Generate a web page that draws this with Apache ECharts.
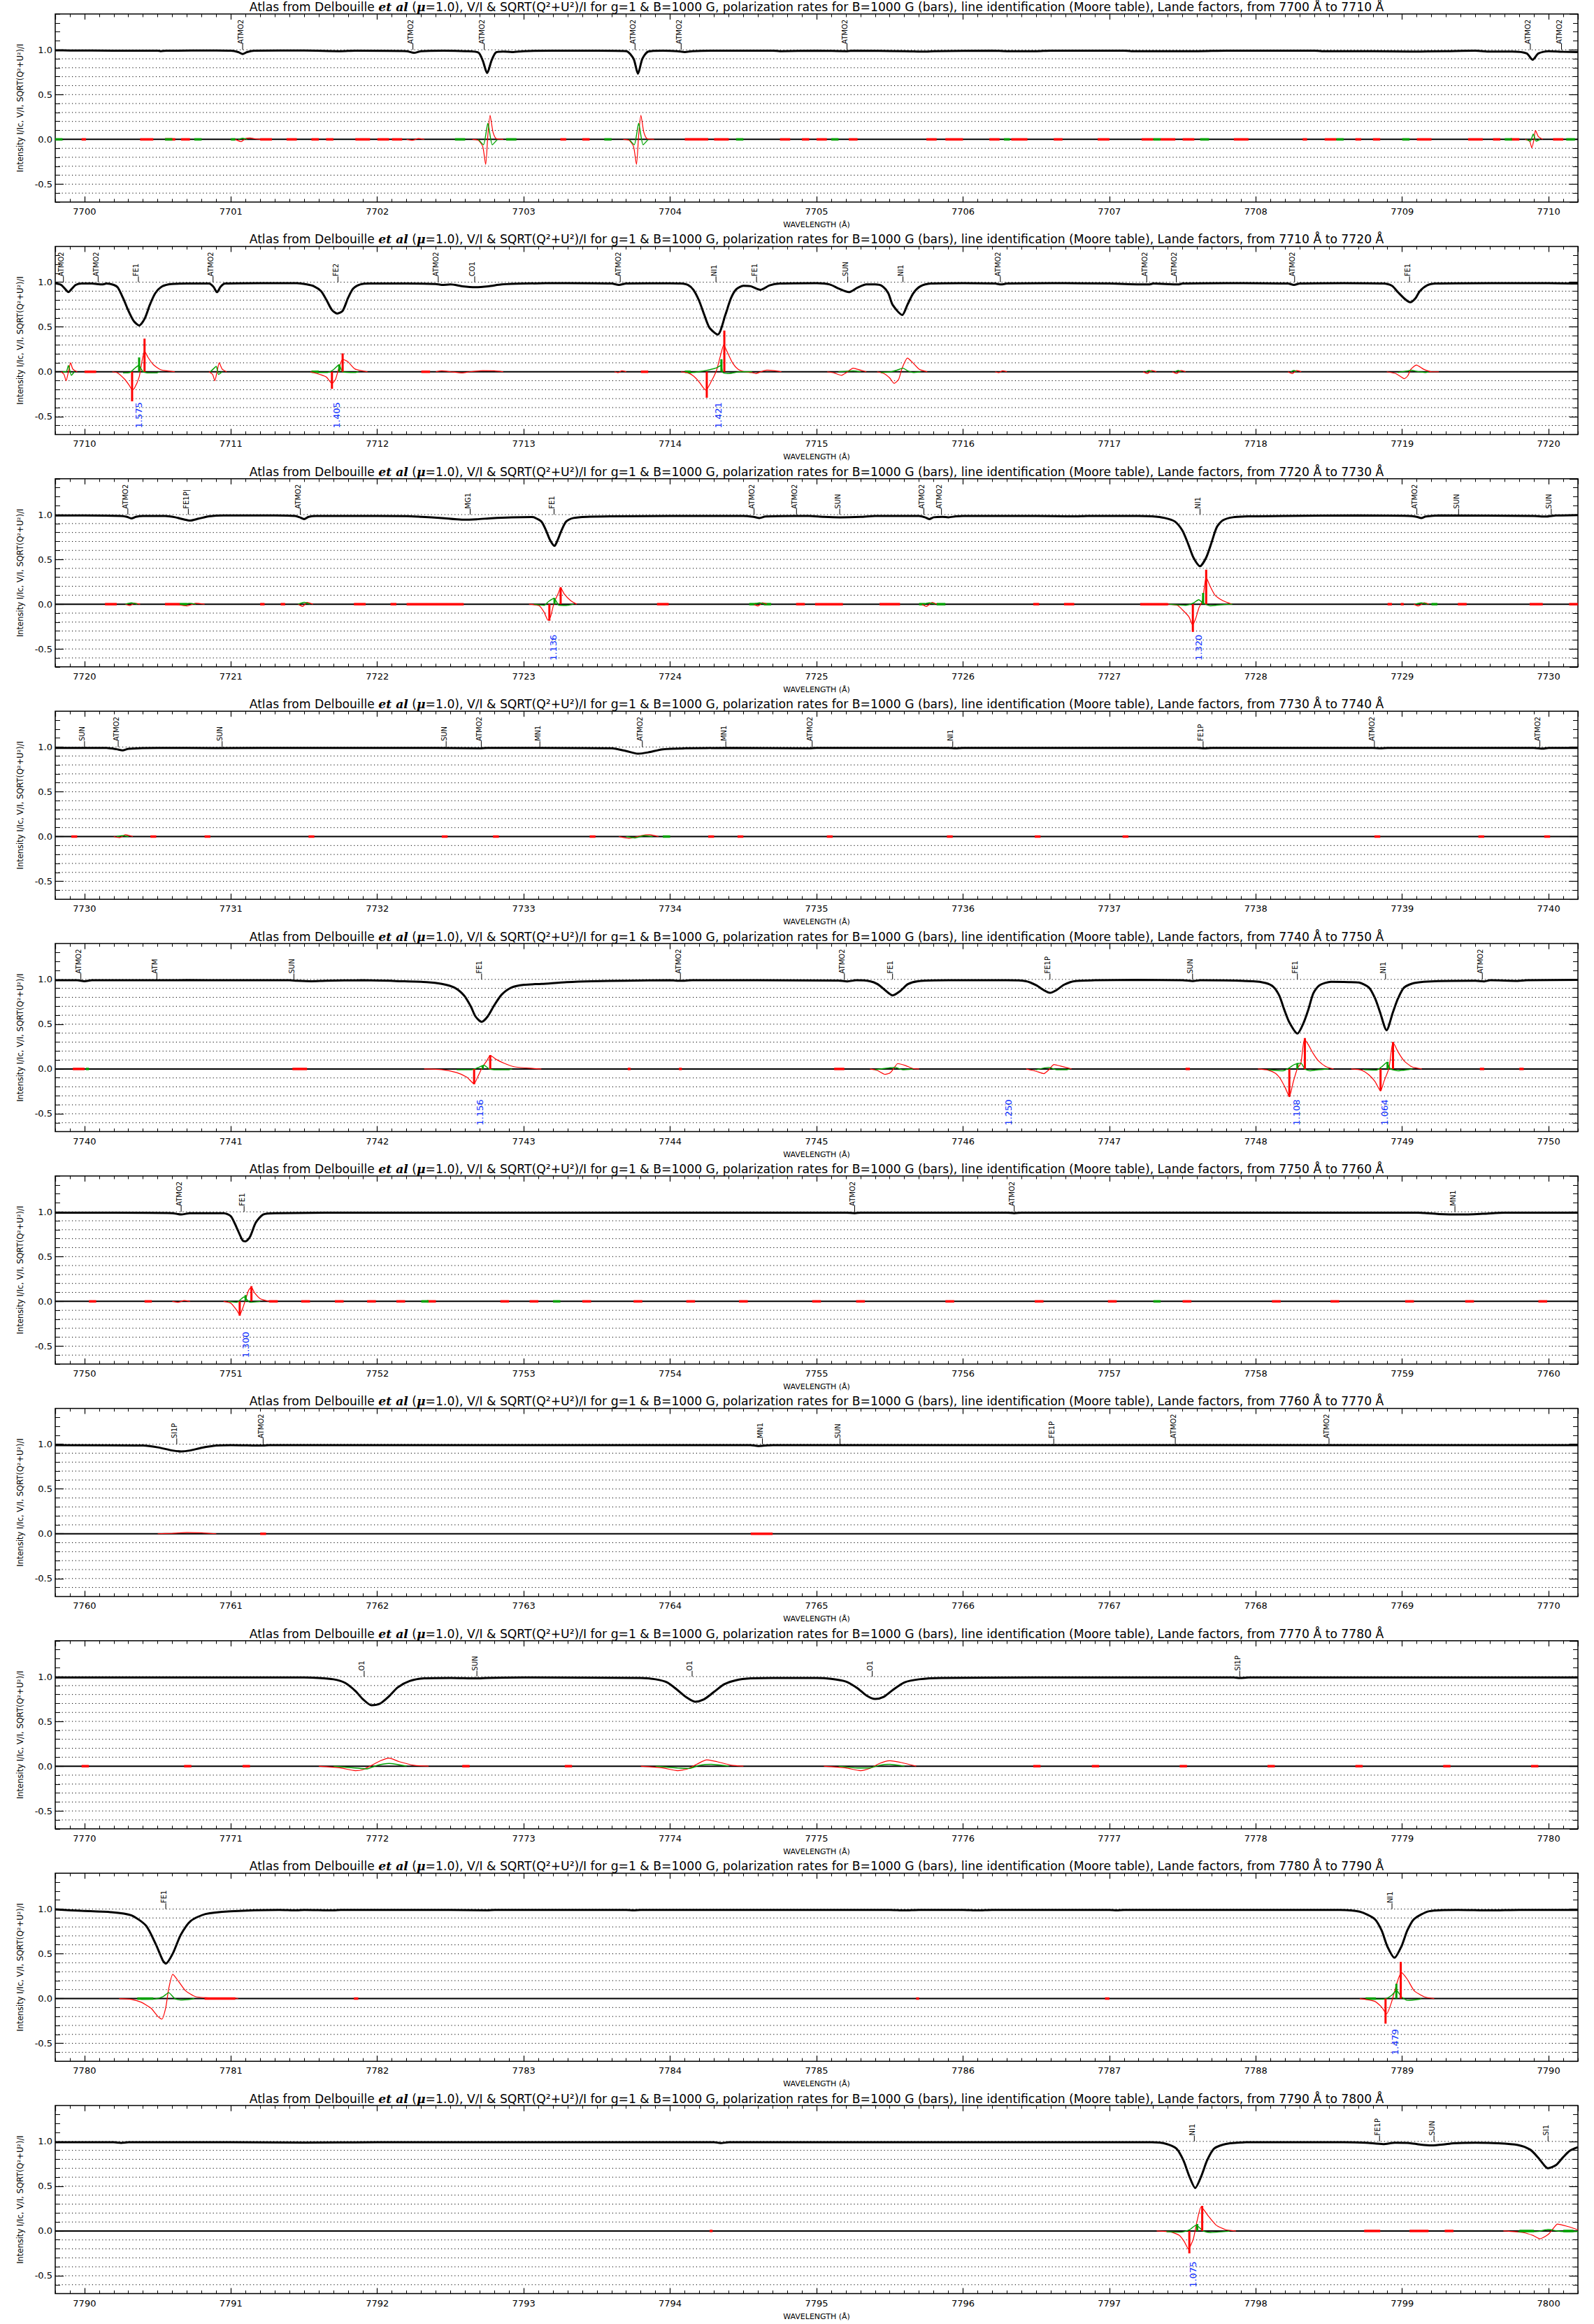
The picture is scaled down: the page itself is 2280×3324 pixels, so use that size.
<!DOCTYPE html>
<html><head><meta charset="utf-8">
<script src="https://cdn.jsdelivr.net/npm/echarts@6/dist/echarts.min.js"></script>
<style>html,body{margin:0;padding:0;background:#fff}#c{width:2280px;height:3324px}</style>
</head><body><div id="c"></div>
<script>
// ---------------- DATA ----------------
const panelStarts = [7700,7710,7720,7730,7740,7750,7760,7770,7780,7790];
const gridLevels = [-0.6,-0.5,-0.4,-0.3,-0.2,-0.1,0,0.1,0.2,0.3,0.4,0.5,0.6,0.7,0.8,0.9,1.0];

// ---- 7700-7710
const int7700 = [[7699.8,0.995],[7699.9,0.993],[7700.2,0.99],[7700.5,0.99],[7700.52,0.985],[7700.56,0.99],[7700.9,0.992],[7701.0,0.99],[7701.05,0.975],[7701.08,0.953],[7701.11,0.975],[7701.16,0.99],[7701.5,0.992],[7701.75,0.985],[7701.85,0.99],[7702.2,0.985],[7702.25,0.966],[7702.3,0.985],[7702.45,0.99],[7702.6,0.985],[7702.69,0.97],[7702.72,0.88],[7702.75,0.74],[7702.78,0.88],[7702.81,0.97],[7702.86,0.98],[7702.92,0.975],[7703.0,0.985],[7703.2,0.99],[7703.5,0.99],[7703.7,0.985],[7703.75,0.9],[7703.78,0.733],[7703.81,0.9],[7703.85,0.98],[7703.95,0.99],[7704.05,0.985],[7704.1,0.975],[7704.15,0.985],[7704.3,0.99],[7704.7,0.99],[7704.75,0.985],[7705.0,0.99],[7705.21,0.985],[7705.25,0.99],[7705.6,0.985],[7705.75,0.98],[7705.8,0.985],[7706.2,0.99],[7706.3,0.985],[7706.5,0.985],[7706.6,0.99],[7707.1,0.99],[7707.15,0.985],[7707.6,0.985],[7707.8,0.99],[7708.4,0.99],[7708.45,0.985],[7708.8,0.985],[7709.05,0.98],[7709.3,0.985],[7709.5,0.99],[7709.6,0.98],[7709.75,0.98],[7709.85,0.96],[7709.89,0.889],[7709.93,0.96],[7710.0,0.985],[7710.1,0.978],[7710.2,0.975]];
const v7700 = [
 [[7701.03,0],[7701.07,-0.025],[7701.1,0.01],[7701.13,0.015],[7701.17,0.005],[7701.2,0]],
 [[7702.2,0],[7702.24,-0.01],[7702.28,0.01],[7702.32,0]],
 [[7702.65,0],[7702.69,-0.01],[7702.72,-0.08],[7702.74,-0.28],[7702.755,0.05],[7702.77,0.27],[7702.79,0.08],[7702.81,0.01],[7702.86,0]],
 [[7703.68,0],[7703.72,-0.01],[7703.75,-0.08],[7703.77,-0.28],[7703.785,0.05],[7703.8,0.27],[7703.82,0.08],[7703.84,0.01],[7703.89,0]],
 [[7709.84,0],[7709.87,-0.02],[7709.885,-0.094],[7709.9,0.0],[7709.91,0.1],[7709.93,0.03],[7709.96,0]]
];
const p7700 = [
 [[7701.05,0],[7701.08,0.012],[7701.11,0]],
 [[7702.69,0],[7702.725,-0.06],[7702.755,0.18],[7702.785,-0.06],[7702.82,0]],
 [[7703.72,0],[7703.755,-0.06],[7703.785,0.18],[7703.815,-0.06],[7703.85,0]],
 [[7709.85,0],[7709.875,-0.02],[7709.895,0.06],[7709.915,-0.02],[7709.94,0]]
];
const nv7700 = [[7699.98,7700.01],[7700.38,7700.47],[7700.55,7700.62],[7700.66,7700.72],[7701.2,7701.28],[7701.38,7701.45],[7701.55,7701.6],[7701.65,7701.7],[7701.85,7701.95],[7702.0,7702.08],[7702.1,7702.17],[7703.25,7703.29],[7703.4,7703.45],[7704.1,7704.26],[7704.3,7704.4],[7704.75,7704.82],[7704.9,7704.95],[7705.0,7705.07],[7705.22,7705.28],[7705.75,7705.82],[7705.88,7706.0],[7706.18,7706.25],[7706.33,7706.44],[7706.62,7706.68],[7706.92,7707.0],[7707.22,7707.3],[7707.35,7707.45],[7707.5,7707.58],[7707.85,7707.95],[7708.32,7708.35],[7708.47,7708.55],[7708.68,7708.72],[7708.8,7708.85],[7709.1,7709.2],[7709.45,7709.55],[7709.62,7709.67],[7709.74,7709.8],[7710.03,7710.1]];
const np7700 = [[7699.8,7699.85],[7700.55,7700.6],[7700.75,7700.8],[7701.0,7701.03],[7702.53,7702.6],[7702.88,7702.95],[7703.55,7703.6],[7704.45,7704.5],[7705.1,7705.15],[7706.28,7706.32],[7707.3,7707.35],[7707.62,7707.68],[7708.55,7708.6],[7709.0,7709.05],[7709.7,7709.75],[7710.12,7710.18]];
const bv7700 = [];
const bp7700 = [];
const id7700 = [[7701.08,'ATMO2'],[7702.243,'ATMO2'],[7702.73,'ATMO2'],[7703.76,'ATMO2'],[7704.075,'ATMO2'],[7705.208,'ATMO2'],[7709.875,'ATMO2'],[7710.088,'ATMO2']];
const ld7700 = [];

// ---- 7710-7720
const int7710 = [[7709.8,0.99],[7709.84,0.97],[7709.87,0.92],[7709.89,0.889],[7709.91,0.92],[7709.94,0.97],[7709.98,0.985],[7710.05,0.985],[7710.12,0.975],[7710.15,0.985],[7710.2,0.97],[7710.227,0.941],[7710.263,0.824],[7710.30,0.681],[7710.337,0.564],[7710.373,0.517],[7710.41,0.59],[7710.446,0.746],[7710.483,0.876],[7710.531,0.954],[7710.593,0.98],[7710.7,0.985],[7710.85,0.985],[7710.88,0.95],[7710.905,0.889],[7710.93,0.95],[7710.96,0.985],[7711.2,0.99],[7711.45,0.99],[7711.519,0.975],[7711.568,0.954],[7711.616,0.90],[7711.653,0.80],[7711.69,0.69],[7711.726,0.65],[7711.763,0.68],[7711.8,0.824],[7711.835,0.928],[7711.883,0.975],[7711.95,0.985],[7712.2,0.985],[7712.4,0.98],[7712.44,0.97],[7712.5,0.975],[7712.58,0.955],[7712.67,0.945],[7712.76,0.955],[7712.85,0.975],[7713.0,0.985],[7713.3,0.99],[7713.6,0.985],[7713.65,0.97],[7713.7,0.985],[7714.0,0.987],[7714.074,0.985],[7714.122,0.969],[7714.159,0.915],[7714.196,0.80],[7714.232,0.64],[7714.269,0.49],[7714.325,0.416],[7714.378,0.64],[7714.415,0.82],[7714.451,0.92],[7714.5,0.96],[7714.55,0.955],[7714.615,0.915],[7714.68,0.965],[7714.75,0.985],[7715.0,0.99],[7715.09,0.975],[7715.15,0.93],[7715.22,0.889],[7715.28,0.94],[7715.34,0.975],[7715.4,0.975],[7715.45,0.955],[7715.49,0.876],[7715.52,0.746],[7715.585,0.634],[7715.62,0.746],[7715.66,0.876],[7715.71,0.955],[7715.78,0.985],[7716.0,0.99],[7716.22,0.985],[7716.26,0.975],[7716.3,0.985],[7716.6,0.99],[7717.0,0.985],[7717.27,0.975],[7717.3,0.985],[7717.47,0.975],[7717.5,0.985],[7717.8,0.99],[7718.22,0.985],[7718.26,0.97],[7718.3,0.985],[7718.6,0.99],[7718.87,0.985],[7718.93,0.96],[7718.97,0.89],[7719.02,0.81],[7719.055,0.777],[7719.09,0.82],[7719.12,0.90],[7719.17,0.965],[7719.23,0.985],[7719.6,0.99],[7720.0,0.99],[7720.2,0.985]];
const v7710 = [
 [[7709.84,0],[7709.86,-0.03],[7709.874,-0.1],[7709.89,0],[7709.905,0.1],[7709.92,0.03],[7709.95,0]],
 [[7710.19,0],[7710.227,-0.013],[7710.276,-0.086],[7710.305,-0.15],[7710.325,-0.2],[7710.339,-0.19],[7710.373,-0.06],[7710.393,0.12],[7710.41,0.23],[7710.434,0.16],[7710.47,0.08],[7710.52,0.023],[7710.617,0]],
 [[7710.85,0],[7710.875,-0.03],[7710.89,-0.1],[7710.905,0],[7710.92,0.1],[7710.94,0.03],[7710.97,0]],
 [[7711.543,0],[7711.616,-0.034],[7711.653,-0.06],[7711.69,-0.13],[7711.714,-0.086],[7711.738,0.045],[7711.763,0.14],[7711.8,0.11],[7711.848,0.03],[7711.933,0]],
 [[7712.4,0],[7712.44,0.01],[7712.5,0],[7712.58,-0.013],[7712.63,0],[7712.72,0.013],[7712.8,0.01],[7712.86,0]],
 [[7713.62,0],[7713.645,-0.01],[7713.67,0.01],[7713.7,0]],
 [[7714.074,0],[7714.122,-0.013],[7714.159,-0.047],[7714.196,-0.11],[7714.232,-0.19],[7714.244,-0.205],[7714.28,-0.11],[7714.317,0.018],[7714.342,0.17],[7714.366,0.30],[7714.39,0.22],[7714.427,0.096],[7714.463,0.03],[7714.51,0],[7714.56,-0.01],[7714.585,-0.02],[7714.62,0],[7714.66,0.018],[7714.71,0.013],[7714.76,0]],
 [[7715.073,0],[7715.12,-0.013],[7715.17,-0.04],[7715.2,-0.013],[7715.25,0.04],[7715.3,0.018],[7715.34,0]],
 [[7715.414,0],[7715.46,-0.02],[7715.5,-0.07],[7715.53,-0.13],[7715.56,-0.086],[7715.585,0.044],[7715.621,0.153],[7715.66,0.096],[7715.7,0.03],[7715.756,0]],
 [[7716.22,0],[7716.245,-0.01],[7716.27,0.01],[7716.3,0]],
 [[7717.23,0],[7717.26,-0.02],[7717.29,0.015],[7717.32,0]],
 [[7717.43,0],[7717.46,-0.02],[7717.49,0.015],[7717.52,0]],
 [[7718.22,0],[7718.25,-0.02],[7718.28,0.015],[7718.31,0]],
 [[7718.895,0],[7718.954,-0.02],[7718.99,-0.055],[7719.014,-0.078],[7719.037,-0.047],[7719.06,0.03],[7719.097,0.075],[7719.144,0.03],[7719.2,0],[7719.25,0]]
];
const p7710 = [
 [[7709.85,0],[7709.875,0.0],[7709.89,0.07],[7709.91,-0.04],[7709.93,0]],
 [[7710.263,-0.013],[7710.31,-0.008],[7710.337,0.03],[7710.37,0.07],[7710.4,0],[7710.434,-0.013],[7710.495,-0.013],[7710.51,0]],
 [[7710.86,0],[7710.885,0.04],[7710.9,0.06],[7710.915,-0.03],[7710.94,0]],
 [[7711.59,-0.008],[7711.66,-0.008],[7711.7,0.023],[7711.738,0.078],[7711.763,0],[7711.85,-0.008],[7711.87,0]],
 [[7714.122,-0.013],[7714.196,0],[7714.256,0.018],[7714.317,0.044],[7714.346,0.07],[7714.36,-0.008],[7714.39,-0.02],[7714.427,-0.013],[7714.476,0],[7714.56,0]],
 [[7715.15,0],[7715.2,0.005],[7715.25,0.01],[7715.3,0]],
 [[7715.44,-0.008],[7715.51,0],[7715.55,0.018],[7715.59,0.04],[7715.62,0.013],[7715.66,-0.008],[7715.71,0]],
 [[7717.25,0],[7717.27,0.015],[7717.29,0]],[[7717.45,0],[7717.47,0.015],[7717.49,0]],[[7718.24,0],[7718.26,0.015],[7718.28,0]],
 [[7718.97,-0.008],[7719.037,0.01],[7719.06,0.018],[7719.097,0.005],[7719.16,-0.008],[7719.18,0]]
];
const nv7710 = [[7710.0,7710.08],[7712.3,7712.36],[7713.8,7713.85]];
const np7710 = [[7711.55,7711.6],[7714.1,7714.14]];
const bv7710 = [[7710.325,-0.33],[7710.41,0.37],[7711.69,-0.19],[7711.763,0.205],[7714.25,-0.29],[7714.37,0.46]];
const bp7710 = [[7710.373,0.16],[7711.74,0.08],[7714.35,0.14]];
const id7710 = [[7709.856,'ATMO2'],[7710.093,'ATMO2'],[7710.368,'FE1'],[7710.878,'ATMO2'],[7711.731,'FE2'],[7712.416,'ATMO2'],[7712.665,'CO1'],[7713.659,'ATMO2'],[7714.313,'NI1'],[7714.59,'FE1'],[7715.213,'SUN'],[7715.59,'NI1'],[7716.255,'ATMO2'],[7717.255,'ATMO2'],[7717.457,'ATMO2'],[7718.265,'ATMO2'],[7719.05,'FE1']];
const ld7710 = [[7710.37,'1.575'],[7711.72,'1.405'],[7714.33,'1.421']];

// ---- 7720-7730
const int7720 = [[7719.8,0.99],[7720.0,0.99],[7720.25,0.985],[7720.29,0.975],[7720.32,0.957],[7720.35,0.975],[7720.4,0.985],[7720.55,0.985],[7720.62,0.97],[7720.68,0.945],[7720.72,0.933],[7720.78,0.955],[7720.85,0.98],[7720.95,0.99],[7721.3,0.99],[7721.44,0.985],[7721.47,0.97],[7721.50,0.95],[7721.53,0.975],[7721.58,0.985],[7721.8,0.985],[7722.2,0.983],[7722.303,0.975],[7722.44,0.962],[7722.577,0.944],[7722.678,0.948],[7722.78,0.96],[7722.917,0.97],[7723.053,0.973],[7723.07,0.97],[7723.12,0.923],[7723.15,0.832],[7723.18,0.715],[7723.21,0.65],[7723.23,0.71],[7723.26,0.832],[7723.29,0.923],[7723.34,0.962],[7723.43,0.975],[7723.6,0.98],[7724.0,0.985],[7724.5,0.985],[7724.57,0.975],[7724.61,0.962],[7724.65,0.978],[7724.85,0.985],[7724.95,0.985],[7725.05,0.975],[7725.16,0.97],[7725.3,0.975],[7725.4,0.985],[7725.7,0.985],[7725.74,0.97],[7725.77,0.95],[7725.8,0.97],[7725.86,0.975],[7725.9,0.97],[7725.95,0.98],[7726.0,0.985],[7726.5,0.985],[7726.76,0.98],[7726.85,0.985],[7727.2,0.985],[7727.292,0.98],[7727.378,0.962],[7727.447,0.923],[7727.499,0.82],[7727.54,0.664],[7727.574,0.52],[7727.619,0.424],[7727.661,0.52],[7727.698,0.69],[7727.733,0.858],[7727.774,0.936],[7727.843,0.97],[7727.95,0.98],[7728.2,0.985],[7728.7,0.99],[7729.05,0.985],[7729.1,0.975],[7729.13,0.962],[7729.16,0.978],[7729.25,0.99],[7729.9,0.985],[7729.98,0.978],[7730.05,0.99],[7730.2,0.995]];
const v7720 = [
 [[7720.28,0],[7720.31,-0.015],[7720.34,0.01],[7720.38,0]],
 [[7720.62,0],[7720.7,-0.02],[7720.76,0.01],[7720.82,0]],
 [[7721.46,0],[7721.49,-0.025],[7721.52,0.02],[7721.56,0]],
 [[7723.036,0],[7723.105,-0.017],[7723.139,-0.09],[7723.166,-0.18],[7723.183,-0.14],[7723.207,0.014],[7723.235,0.118],[7723.252,0.183],[7723.275,0.118],[7723.32,0.04],[7723.361,0]],
 [[7724.57,0],[7724.6,-0.02],[7724.63,0.015],[7724.66,0]],
 [[7725.72,0],[7725.75,-0.025],[7725.79,0.02],[7725.82,0]],
 [[7727.395,0],[7727.464,-0.013],[7727.5,-0.065],[7727.543,-0.14],[7727.568,-0.23],[7727.588,-0.167],[7727.612,-0.038],[7727.636,0.04],[7727.661,0.3],[7727.688,0.2],[7727.722,0.1],[7727.774,0.04],[7727.836,0]],
 [[7729.08,0],[7729.11,-0.02],[7729.15,0.015],[7729.18,0]]
];
const p7720 = [
 [[7720.28,0],[7720.32,0.015],[7720.36,0]],[[7720.68,0],[7720.72,0.01],[7720.76,0]],[[7721.46,0],[7721.5,0.02],[7721.54,0]],
 [[7723.07,0],[7723.139,-0.013],[7723.17,0.03],[7723.207,0.065],[7723.24,-0.012],[7723.29,-0.015],[7723.34,0]],
 [[7724.57,0],[7724.61,0.015],[7724.65,0]],[[7725.73,0],[7725.77,0.015],[7725.81,0]],
 [[7727.41,0],[7727.52,-0.013],[7727.574,0.013],[7727.61,0.05],[7727.64,0.013],[7727.688,-0.018],[7727.76,-0.007],[7727.84,0]],
 [[7729.09,0],[7729.13,0.015],[7729.17,0]]
];
const nv7720 = [[7720.14,7720.22],[7720.55,7720.65],[7721.2,7721.23],[7721.34,7721.37],[7721.84,7721.92],[7722.09,7722.13],[7722.2,7722.59],[7723.91,7723.99],[7724.86,7724.92],[7724.99,7725.18],[7725.43,7725.57],[7726.48,7726.52],[7726.69,7726.76],[7727.21,7727.4],[7728.9,7728.93],[7728.99,7729.01],[7729.38,7729.44],[7729.87,7729.96],[7730.14,7730.2]];
const np7720 = [[7720.65,7720.7],[7724.54,7724.59],[7724.64,7724.69],[7725.7,7725.74],[7725.82,7725.88],[7729.2,7729.24]];
const bv7720 = [[7723.175,-0.185],[7723.252,0.19],[7727.57,-0.31],[7727.661,0.385]];
const bp7720 = [[7723.21,0.066],[7727.64,0.125]];
const id7720 = [[7720.296,'ATMO2'],[7720.709,'FE1P|'],[7721.474,'ATMO2'],[7722.634,'MG1'],[7723.207,'FE1'],[7724.573,'ATMO2'],[7724.863,'ATMO2'],[7725.158,'SUN'],[7725.733,'ATMO2'],[7725.853,'ATMO2'],[7727.619,'NI1'],[7729.1,'ATMO2'],[7729.385,'SUN'],[7730.018,'SUN']];
const ld7720 = [[7723.2,'1.136'],[7727.61,'1.320']];

// ---- 7730-7740
const int7730 = [[7729.8,0.99],[7730.0,0.99],[7730.15,0.99],[7730.22,0.975],[7730.26,0.962],[7730.3,0.98],[7730.5,0.99],[7730.9,0.988],[7731.5,0.99],[7732.4,0.99],[7732.7,0.985],[7732.75,0.99],[7733.1,0.99],[7733.6,0.985],[7733.7,0.955],[7733.78,0.925],[7733.85,0.94],[7733.95,0.975],[7734.1,0.985],[7734.4,0.99],[7734.95,0.985],[7735.0,0.99],[7735.9,0.99],[7735.95,0.985],[7736.0,0.99],[7737.6,0.99],[7737.65,0.985],[7737.7,0.99],[7738.8,0.99],[7738.85,0.985],[7738.9,0.99],[7739.9,0.99],[7739.96,0.982],[7740.0,0.99],[7740.2,0.99]];
const v7730 = [
 [[7730.2,0],[7730.24,-0.012],[7730.28,0.02],[7730.33,0]],
 [[7733.65,0],[7733.72,-0.02],[7733.8,0.01],[7733.86,0.02],[7733.92,0]]
];
const p7730 = [
 [[7730.22,0],[7730.26,0.01],[7730.3,0]],
 [[7733.7,0],[7733.76,-0.015],[7733.82,0.01],[7733.88,0]]
];
const nv7730 = [[7729.91,7729.95],[7730.45,7730.49],[7730.82,7730.86],[7731.53,7731.57],[7732.44,7732.48],[7732.79,7732.83],[7733.45,7733.49],[7734.26,7734.3],[7734.46,7734.5],[7735.07,7735.11],[7735.89,7735.93],[7736.49,7736.53],[7737.09,7737.13],[7738.81,7738.85],[7739.52,7739.56],[7739.97,7740.01]];
const np7730 = [[7733.95,7734.0]];
const bv7730 = [];
const bp7730 = [];
const id7730 = [[7730.0,'SUN'],[7730.23,'ATMO2'],[7730.94,'SUN'],[7732.47,'SUN'],[7732.71,'ATMO2'],[7733.11,'MN1'],[7733.81,'ATMO2'],[7734.38,'MN1'],[7734.97,'ATMO2'],[7735.93,'NI1'],[7737.64,'FE1P'],[7738.81,'ATMO2'],[7739.94,'ATMO2']];
const ld7730 = [];

// ---- 7740-7750
const int7740 = [[7739.8,0.99],[7739.95,0.99],[7740.0,0.98],[7740.05,0.99],[7740.3,0.99],[7740.5,0.99],[7740.7,0.992],[7741.0,0.99],[7741.4,0.99],[7741.45,0.985],[7741.55,0.98],[7741.65,0.985],[7741.9,0.99],[7742.166,0.98],[7742.337,0.97],[7742.44,0.95],[7742.525,0.91],[7742.593,0.82],[7742.638,0.70],[7742.671,0.585],[7742.712,0.527],[7742.753,0.585],[7742.798,0.71],[7742.849,0.83],[7742.917,0.91],[7743.003,0.94],[7743.122,0.95],[7743.293,0.97],[7743.463,0.98],[7743.7,0.985],[7744.0,0.99],[7744.07,0.985],[7744.15,0.99],[7744.6,0.99],[7745.15,0.988],[7745.21,0.978],[7745.27,0.99],[7745.365,0.98],[7745.417,0.947],[7745.468,0.88],[7745.519,0.822],[7745.571,0.87],[7745.623,0.947],[7745.692,0.98],[7745.9,0.99],[7746.3,0.99],[7746.432,0.98],[7746.5,0.935],[7746.552,0.88],[7746.594,0.85],[7746.638,0.88],[7746.69,0.94],[7746.758,0.98],[7746.9,0.99],[7747.2,0.995],[7747.5,0.99],[7747.57,0.982],[7747.62,0.99],[7747.981,0.98],[7748.067,0.96],[7748.118,0.92],[7748.16,0.82],[7748.194,0.664],[7748.229,0.52],[7748.284,0.395],[7748.325,0.51],[7748.359,0.664],[7748.393,0.845],[7748.435,0.935],[7748.514,0.973],[7748.635,0.97],[7748.704,0.965],[7748.772,0.91],[7748.814,0.79],[7748.848,0.636],[7748.893,0.433],[7748.937,0.636],[7748.972,0.79],[7749.013,0.91],[7749.082,0.96],[7749.22,0.98],[7749.5,0.985],[7749.56,0.978],[7749.6,0.99],[7749.79,0.983],[7749.85,0.99],[7750.2,0.995]];
const v7740 = [
 [[7742.32,0],[7742.44,-0.008],[7742.542,-0.04],[7742.61,-0.09],[7742.661,-0.165],[7742.685,-0.09],[7742.719,0.025],[7742.747,0.09],[7742.771,0.15],[7742.815,0.104],[7742.866,0.064],[7742.934,0.025],[7743.071,0.005],[7743.12,0]],
 [[7745.365,0],[7745.417,-0.018],[7745.468,-0.06],[7745.502,-0.044],[7745.53,0.013],[7745.554,0.06],[7745.605,0.04],[7745.657,0.005],[7745.7,0]],
 [[7746.432,0],[7746.5,-0.026],[7746.552,-0.052],[7746.587,-0.008],[7746.621,0.05],[7746.672,0.03],[7746.741,0]],
 [[7748.015,0],[7748.084,-0.013],[7748.135,-0.05],[7748.17,-0.116],[7748.204,-0.22],[7748.229,-0.31],[7748.256,-0.143],[7748.284,0.005],[7748.308,0.065],[7748.332,0.33],[7748.359,0.27],[7748.393,0.17],[7748.428,0.09],[7748.48,0.025],[7748.531,0]],
 [[7748.652,0],[7748.721,-0.013],[7748.772,-0.065],[7748.814,-0.14],[7748.852,-0.245],[7748.875,-0.14],[7748.91,0.013],[7748.937,0.3],[7748.972,0.19],[7749.013,0.09],[7749.065,0.025],[7749.134,0]]
];
const p7740 = [
 [[7742.542,-0.008],[7742.644,-0.008],[7742.685,0.013],[7742.729,0.04],[7742.764,0],[7742.798,-0.008],[7742.9,-0.008],[7742.92,0]],
 [[7745.4,-0.008],[7745.502,0.013],[7745.537,0.018],[7745.588,-0.008],[7745.657,0]],
 [[7746.5,-0.008],[7746.587,0.018],[7746.638,-0.008],[7746.71,-0.008],[7746.73,0]],
 [[7748.084,-0.008],[7748.187,-0.02],[7748.229,0.013],[7748.263,0.05],[7748.308,0.065],[7748.335,0],[7748.37,-0.02],[7748.428,-0.008],[7748.497,0]],
 [[7748.74,-0.008],[7748.824,-0.013],[7748.86,0.025],[7748.893,0.07],[7748.92,0],[7748.972,-0.02],[7749.05,-0.005],[7749.07,0]]
];
const nv7740 = [[7739.92,7740.0],[7741.42,7741.52],[7743.71,7743.73],[7744.06,7744.08],[7745.12,7745.19],[7747.52,7747.55],[7749.53,7749.56],[7749.8,7749.83]];
const np7740 = [[7740.01,7740.03]];
const bv7740 = [[7742.661,-0.17],[7742.771,0.155],[7748.229,-0.31],[7748.335,0.345],[7748.852,-0.245],[7748.937,0.30]];
const bp7740 = [[7742.72,0.04],[7748.284,0.065],[7748.9,0.08]];
const id7740 = [[7739.975,'ATMO2'],[7740.494,'ATM'],[7741.43,'SUN'],[7742.712,'FE1'],[7744.07,'ATMO2'],[7745.19,'ATMO2'],[7745.519,'FE1'],[7746.594,'FE1P'],[7747.568,'SUN'],[7748.284,'FE1'],[7748.886,'NI1'],[7749.547,'ATMO2']];
const ld7740 = [[7742.7,'1.156'],[7746.31,'1.250'],[7748.28,'1.108'],[7748.88,'1.064']];

// ---- 7750-7760
const int7750 = [[7749.8,0.99],[7750.2,0.99],[7750.6,0.985],[7750.66,0.97],[7750.72,0.985],[7750.95,0.985],[7751.0,0.95],[7751.04,0.82],[7751.08,0.68],[7751.1,0.67],[7751.13,0.72],[7751.17,0.88],[7751.22,0.97],[7751.3,0.985],[7752.0,0.99],[7753.0,0.99],[7754.0,0.99],[7755.2,0.99],[7755.26,0.985],[7755.3,0.99],[7756.3,0.99],[7756.35,0.985],[7756.4,0.99],[7758.0,0.99],[7759.1,0.99],[7759.25,0.975],[7759.4,0.97],[7759.55,0.978],[7759.7,0.99],[7760.2,0.99]];
const v7750 = [
 [[7750.6,0],[7750.64,-0.01],[7750.68,0.01],[7750.72,0]],
 [[7750.95,0],[7751.0,-0.02],[7751.04,-0.1],[7751.06,-0.15],[7751.08,-0.08],[7751.1,0.02],[7751.12,0.12],[7751.14,0.16],[7751.16,0.1],[7751.2,0.03],[7751.26,0]]
];
const p7750 = [
 [[7750.98,0],[7751.04,-0.01],[7751.09,0.05],[7751.13,-0.01],[7751.2,0]]
];
const nv7750 = [[7750.03,7750.08],[7750.41,7750.46],[7751.26,7751.32],[7751.48,7751.54],[7751.71,7751.77],[7751.93,7751.99],[7752.13,7752.19],[7752.34,7752.4],[7752.84,7752.9],[7753.04,7753.1],[7753.4,7753.46],[7753.75,7753.81],[7754.11,7754.17],[7754.47,7754.53],[7754.97,7755.03],[7755.27,7755.33],[7755.88,7755.94],[7756.49,7756.55],[7756.99,7757.05],[7757.5,7757.56],[7758.11,7758.17],[7758.51,7758.57],[7759.02,7759.08],[7759.43,7759.49],[7759.93,7759.99]];
const np7750 = [[7752.3,7752.35],[7753.2,7753.25],[7757.3,7757.35]];
const bv7750 = [[7751.06,-0.16],[7751.14,0.17]];
const bp7750 = [[7751.1,0.07]];
const id7750 = [[7750.66,'ATMO2'],[7751.09,'FE1'],[7755.26,'ATMO2'],[7756.35,'ATMO2'],[7759.36,'MN1']];
const ld7750 = [[7751.1,'1.300']];

// ---- 7760-7770
const int7760 = [[7759.8,0.99],[7760.4,0.985],[7760.5,0.965],[7760.6,0.93],[7760.66,0.92],[7760.72,0.93],[7760.8,0.96],[7760.9,0.985],[7761.0,0.99],[7761.22,0.985],[7761.26,0.99],[7762.5,0.99],[7764.55,0.99],[7764.6,0.98],[7764.65,0.985],[7764.7,0.99],[7766.0,0.99],[7768.0,0.99],[7770.2,0.99]];
const v7760 = [
 [[7760.5,0],[7760.6,0.005],[7760.7,0.015],[7760.8,0.01],[7760.9,0]]
];
const p7760 = [];
const nv7760 = [[7764.55,7764.7],[7761.2,7761.24]];
const np7760 = [];
const bv7760 = [];
const bp7760 = [];
const id7760 = [[7760.63,'SI1P'],[7761.22,'ATMO2'],[7764.63,'MN1'],[7765.16,'SUN'],[7766.62,'FE1P'],[7767.45,'ATMO2'],[7768.5,'ATMO2']];
const ld7760 = [];

// ---- 7770-7780
const int7770 = [[7769.8,0.99],[7770.5,0.99],[7771.0,0.99],[7771.5,0.99],[7771.6,0.985],[7771.7,0.97],[7771.78,0.93],[7771.85,0.84],[7771.9,0.75],[7771.96,0.68],[7772.02,0.7],[7772.08,0.78],[7772.14,0.88],[7772.22,0.95],[7772.32,0.98],[7772.5,0.985],[7772.68,0.98],[7772.75,0.985],[7773.0,0.99],[7773.8,0.985],[7773.9,0.97],[7773.98,0.935],[7774.05,0.85],[7774.11,0.77],[7774.17,0.72],[7774.23,0.745],[7774.3,0.83],[7774.37,0.915],[7774.45,0.96],[7774.55,0.98],[7774.7,0.985],[7775.0,0.985],[7775.1,0.975],[7775.2,0.945],[7775.28,0.87],[7775.34,0.79],[7775.4,0.75],[7775.46,0.775],[7775.52,0.85],[7775.6,0.935],[7775.7,0.97],[7775.85,0.985],[7776.5,0.99],[7777.85,0.99],[7777.89,0.985],[7777.95,0.99],[7780.2,0.99]];
const v7770 = [
 [[7771.6,0],[7771.75,-0.02],[7771.85,-0.05],[7771.9,-0.04],[7771.95,0],[7772.02,0.06],[7772.08,0.09],[7772.15,0.05],[7772.25,0.01],[7772.35,0]],
 [[7773.8,0],[7773.95,-0.02],[7774.05,-0.05],[7774.12,-0.03],[7774.18,0.02],[7774.25,0.07],[7774.32,0.05],[7774.42,0.01],[7774.5,0]],
 [[7775.05,0],[7775.2,-0.02],[7775.3,-0.05],[7775.37,-0.02],[7775.43,0.03],[7775.5,0.06],[7775.58,0.04],[7775.68,0]]
];
const p7770 = [
 [[7771.7,0],[7771.85,-0.02],[7771.93,-0.03],[7772.0,0.01],[7772.08,0.03],[7772.2,0]],
 [[7773.9,0],[7774.05,-0.02],[7774.13,-0.025],[7774.2,0.01],[7774.28,0.02],[7774.4,0]],
 [[7775.15,0],[7775.28,-0.02],[7775.36,-0.02],[7775.43,0.01],[7775.5,0.02],[7775.6,0]]
];
const nv7770 = [[7769.98,7770.03],[7770.68,7770.73],[7771.08,7771.13],[7772.58,7772.63],[7773.28,7773.33],[7776.48,7776.53],[7776.88,7776.93],[7777.48,7777.53],[7778.08,7778.13],[7778.68,7778.73],[7779.28,7779.33],[7779.88,7779.93]];
const np7770 = [];
const bv7770 = [];
const bp7770 = [];
const id7770 = [[7771.91,'O1'],[7772.68,'SUN'],[7774.15,'O1'],[7775.38,'O1'],[7777.89,'SI1P']];
const ld7770 = [];

// ---- 7780-7790
const int7780 = [[7779.8,0.995],[7779.98,0.98],[7780.18,0.965],[7780.318,0.93],[7780.42,0.814],[7780.487,0.606],[7780.535,0.425],[7780.555,0.39],[7780.603,0.503],[7780.657,0.71],[7780.725,0.866],[7780.826,0.944],[7780.994,0.975],[7781.33,0.99],[7781.45,0.985],[7781.5,0.99],[7781.7,0.985],[7781.75,0.99],[7782.5,0.99],[7782.75,0.985],[7782.8,0.99],[7783.7,0.99],[7783.75,0.985],[7783.8,0.99],[7785.5,0.99],[7785.6,0.985],[7785.7,0.99],[7786.0,0.99],[7786.1,0.985],[7786.2,0.99],[7787.0,0.99],[7787.05,0.985],[7787.1,0.99],[7788.575,0.99],[7788.71,0.97],[7788.811,0.89],[7788.859,0.762],[7788.899,0.58],[7788.947,0.456],[7788.994,0.58],[7789.035,0.762],[7789.082,0.89],[7789.184,0.975],[7789.38,0.99],[7789.6,0.985],[7789.8,0.99],[7790.2,0.99]];
const v7780 = [
 [[7780.237,0],[7780.318,-0.008],[7780.386,-0.04],[7780.454,-0.107],[7780.501,-0.2],[7780.528,-0.23],[7780.555,-0.1],[7780.575,0.11],[7780.603,0.27],[7780.643,0.19],[7780.69,0.087],[7780.758,0.022],[7780.894,0.005],[7781.029,0.005],[7781.05,0]],
 [[7788.71,0],[7788.811,-0.03],[7788.859,-0.095],[7788.893,-0.17],[7788.927,-0.04],[7788.967,0.19],[7788.994,0.29],[7789.035,0.215],[7789.082,0.087],[7789.15,0.02],[7789.218,0]]
];
const p7780 = [
 [[7780.386,-0.008],[7780.48,-0.005],[7780.535,0.02],[7780.575,0.066],[7780.616,0],[7780.657,-0.016],[7780.725,-0.008],[7780.75,0]],
 [[7788.777,-0.008],[7788.88,-0.005],[7788.927,0.035],[7788.961,0.09],[7788.994,0.02],[7789.035,-0.02],[7789.116,-0.008],[7789.13,0]]
];
const nv7780 = [[7780.82,7781.03],[7781.84,7781.87],[7785.68,7785.7],[7786.97,7787.0]];
const np7780 = [[7780.36,7780.47],[7788.75,7788.82]];
const bv7780 = [[7788.886,-0.28],[7788.99,0.41]];
const bp7780 = [[7788.96,0.165]];
const id7780 = [[7780.555,'FE1'],[7788.93,'NI1']];
const ld7780 = [[7788.95,'1.479']];

// ---- 7790-7800
const int7790 = [[7789.8,0.99],[7790.2,0.99],[7790.25,0.983],[7790.3,0.99],[7791.0,0.99],[7791.5,0.988],[7792.0,0.99],[7793.0,0.99],[7794.0,0.99],[7794.3,0.99],[7794.345,0.982],[7794.4,0.99],[7795.5,0.99],[7796.5,0.99],[7797.289,0.99],[7797.39,0.972],[7797.458,0.92],[7797.505,0.79],[7797.546,0.61],[7797.586,0.48],[7797.627,0.61],[7797.668,0.79],[7797.715,0.92],[7797.796,0.972],[7797.932,0.99],[7798.6,0.99],[7798.75,0.985],[7798.87,0.97],[7798.95,0.985],[7799.05,0.982],[7799.12,0.965],[7799.2,0.955],[7799.28,0.965],[7799.35,0.98],[7799.5,0.985],[7799.657,0.98],[7799.79,0.96],[7799.874,0.908],[7799.928,0.82],[7799.969,0.735],[7799.995,0.70],[7800.05,0.735],[7800.097,0.82],[7800.144,0.895],[7800.2,0.935]];
const v7790 = [
 [[7797.323,0],[7797.424,-0.013],[7797.478,-0.05],[7797.512,-0.12],[7797.539,-0.2],[7797.573,-0.09],[7797.6,0.12],[7797.627,0.27],[7797.674,0.17],[7797.729,0.065],[7797.796,0.013],[7797.864,0]],
 [[7799.691,0],[7799.826,-0.018],[7799.894,-0.05],[7799.94,-0.087],[7799.996,-0.04],[7800.03,0.025],[7800.06,0.077],[7800.13,0.05],[7800.2,0.013]]
];
const p7790 = [
 [[7797.39,-0.008],[7797.49,-0.013],[7797.546,0.013],[7797.593,0.065],[7797.64,0],[7797.69,-0.018],[7797.796,-0.005],[7797.82,0]],
 [[7799.79,-0.008],[7799.928,-0.005],[7799.996,0.017],[7800.06,0],[7800.13,-0.008],[7800.2,-0.005]]
];
const nv7790 = [[7794.27,7794.29],[7798.74,7798.85],[7799.05,7799.18],[7799.29,7799.35]];
const np7790 = [[7799.8,7799.9],[7800.1,7800.17]];
const bv7790 = [[7797.546,-0.25],[7797.634,0.28]];
const bp7790 = [[7797.6,0.077]];
const id7790 = [[7797.58,'NI1'],[7798.845,'FE1P'],[7799.217,'SUN'],[7799.996,'SI1']];
const ld7790 = [[7797.57,'1.075']];

const PANELS = [
 {s:7700,I:int7700,V:v7700,P:p7700,nV:nv7700,nP:np7700,bV:bv7700,bP:bp7700,ids:id7700,ld:ld7700},
 {s:7710,I:int7710,V:v7710,P:p7710,nV:nv7710,nP:np7710,bV:bv7710,bP:bp7710,ids:id7710,ld:ld7710},
 {s:7720,I:int7720,V:v7720,P:p7720,nV:nv7720,nP:np7720,bV:bv7720,bP:bp7720,ids:id7720,ld:ld7720},
 {s:7730,I:int7730,V:v7730,P:p7730,nV:nv7730,nP:np7730,bV:bv7730,bP:bp7730,ids:id7730,ld:ld7730},
 {s:7740,I:int7740,V:v7740,P:p7740,nV:nv7740,nP:np7740,bV:bv7740,bP:bp7740,ids:id7740,ld:ld7740},
 {s:7750,I:int7750,V:v7750,P:p7750,nV:nv7750,nP:np7750,bV:bv7750,bP:bp7750,ids:id7750,ld:ld7750},
 {s:7760,I:int7760,V:v7760,P:p7760,nV:nv7760,nP:np7760,bV:bv7760,bP:bp7760,ids:id7760,ld:ld7760},
 {s:7770,I:int7770,V:v7770,P:p7770,nV:nv7770,nP:np7770,bV:bv7770,bP:bp7770,ids:id7770,ld:ld7770},
 {s:7780,I:int7780,V:v7780,P:p7780,nV:nv7780,nP:np7780,bV:bv7780,bP:bp7780,ids:id7780,ld:ld7780},
 {s:7790,I:int7790,V:v7790,P:p7790,nV:nv7790,nP:np7790,bV:bv7790,bP:bp7790,ids:id7790,ld:ld7790}
];

// ---------------- LAYOUT / STYLE ----------------
const W = 2280, H = 3324, PITCH = H / 10;
const GL = 79, GR = 23, GT = 20, GH = 269;
const YMIN = -0.7, YMAX = 1.4;
const FONT = 'DejaVu Sans';
const RED = '#ff0000', GREEN = '#00a000', BLUE = '#1030ff';

const chart = echarts.init(document.getElementById('c'), null, {renderer: 'svg', width: W, height: H});

const grids = [], xAxes = [], yAxes = [], series = [], graphics = [];

function segData(segs) {
  const out = [];
  segs.forEach(s => { s.forEach(p => out.push(p)); out.push(['-', '-']); });
  return out;
}

PANELS.forEach((pn, i) => {
  const xmin = pn.s - 0.2, xmax = pn.s + 10.2;
  const top = i * PITCH + GT;
  grids.push({left: GL, right: GR, top: top, height: GH, show: true, borderColor: '#000', borderWidth: 1.5, backgroundColor: 'transparent'});
  const xi = xAxes.length, yi = yAxes.length;
  const baseX = {gridIndex: i, type: 'value', min: xmin, max: xmax, axisLine: {show: false, onZero: false}, splitLine: {show: false}};
  xAxes.push(Object.assign({}, baseX, {position: 'bottom', splitNumber: 10,
    axisTick: {inside: true, length: 8, lineStyle: {color: '#000', width: 1.2}},
    axisLabel: {margin: 7, fontSize: 13, fontFamily: FONT, color: '#000', showMinLabel: false, showMaxLabel: false,
      formatter: v => (Math.abs(v - Math.round(v)) < 1e-6 ? String(Math.round(v)) : '')},
    name: 'WAVELENGTH (Å)', nameLocation: 'middle', nameGap: 27,
    nameTextStyle: {fontSize: 11, fontFamily: FONT, color: '#000'}}));
  xAxes.push(Object.assign({}, baseX, {position: 'bottom', interval: 0.1,
    axisTick: {inside: true, length: 4.5, lineStyle: {color: '#000', width: 1}}, axisLabel: {show: false}}));
  xAxes.push(Object.assign({}, baseX, {position: 'top', splitNumber: 10,
    axisTick: {inside: true, length: 8, lineStyle: {color: '#000', width: 1.2}}, axisLabel: {show: false}}));
  xAxes.push(Object.assign({}, baseX, {position: 'top', interval: 0.1,
    axisTick: {inside: true, length: 4.5, lineStyle: {color: '#000', width: 1}}, axisLabel: {show: false}}));
  const baseY = {gridIndex: i, type: 'value', min: YMIN, max: YMAX, axisLine: {show: false, onZero: false}, splitLine: {show: false}};
  yAxes.push(Object.assign({}, baseY, {position: 'left', splitNumber: 4,
    axisTick: {inside: true, length: 12, lineStyle: {color: '#000', width: 1.2}},
    axisLabel: {margin: 4, fontSize: 13, fontFamily: FONT, color: '#000', showMinLabel: false, showMaxLabel: false,
      formatter: v => v.toFixed(1)},
    name: 'Intensity I/Ic, V/I, SQRT(Q²+U²)/I', nameLocation: 'middle', nameGap: 44,
    nameTextStyle: {fontSize: 11.5, fontFamily: FONT, color: '#000'}}));
  yAxes.push(Object.assign({}, baseY, {position: 'left', interval: 0.1,
    axisTick: {inside: true, length: 7, lineStyle: {color: '#000', width: 1}}, axisLabel: {show: false}}));
  yAxes.push(Object.assign({}, baseY, {position: 'right', splitNumber: 4,
    axisTick: {inside: true, length: 12, lineStyle: {color: '#000', width: 1.2}}, axisLabel: {show: false}}));
  yAxes.push(Object.assign({}, baseY, {position: 'right', interval: 0.1,
    axisTick: {inside: true, length: 7, lineStyle: {color: '#000', width: 1}}, axisLabel: {show: false}}));

  const ax = {xAxisIndex: xi, yAxisIndex: yi};

  // dotted grid lines + solid zero line
  series.push(Object.assign({type: 'custom', z: 1, silent: true, animation: false,
    data: gridLevels.map(v => [xmin, v]),
    renderItem: (params, api) => {
      const v = api.value(1);
      const a = api.coord([xmin, v]), b = api.coord([xmax, v]);
      const zero = Math.abs(v) < 1e-9;
      return {type: 'line', shape: {x1: a[0], y1: a[1], x2: b[0], y2: b[1]},
        style: {stroke: '#000', lineWidth: zero ? 2 : 1, lineDash: zero ? null : [1.2, 3.6]}};
    }}, ax));

  // small polarisation residues on zero line
  const noiseRender = color => (params, api) => {
    const a = api.coord([api.value(0), 0]), b = api.coord([api.value(1), 0]);
    return {type: 'line', shape: {x1: a[0], y1: a[1], x2: b[0], y2: b[1]}, style: {stroke: color, lineWidth: 3.5}};
  };
  series.push(Object.assign({type: 'custom', z: 2, silent: true, animation: false, data: pn.nV, renderItem: noiseRender(RED)}, ax));
  series.push(Object.assign({type: 'custom', z: 2, silent: true, animation: false, data: pn.nP, renderItem: noiseRender(GREEN)}, ax));

  // V/I and linear polarisation
  series.push(Object.assign({type: 'line', z: 3, silent: true, animation: false, showSymbol: false, symbol: 'none',
    data: segData(pn.V), lineStyle: {color: RED, width: 1.2}, smooth: 0.2}, ax));
  series.push(Object.assign({type: 'line', z: 3, silent: true, animation: false, showSymbol: false, symbol: 'none',
    data: segData(pn.P), lineStyle: {color: GREEN, width: 1.4}, smooth: 0.2}, ax));

  // bars
  const barRender = color => (params, api) => {
    const a = api.coord([api.value(0), 0]), b = api.coord([api.value(0), api.value(1)]);
    return {type: 'line', shape: {x1: a[0], y1: a[1], x2: b[0], y2: b[1]}, style: {stroke: color, lineWidth: 3}};
  };
  series.push(Object.assign({type: 'custom', z: 4, silent: true, animation: false, data: pn.bV, renderItem: barRender(RED)}, ax));
  series.push(Object.assign({type: 'custom', z: 4, silent: true, animation: false, data: pn.bP, renderItem: barRender(GREEN)}, ax));

  // intensity
  series.push(Object.assign({type: 'line', z: 5, silent: true, animation: false, showSymbol: false, symbol: 'none',
    data: pn.I, lineStyle: {color: '#000', width: 3}, smooth: 0.25}, ax));

  // line identifications
  const ids = pn.ids;
  series.push(Object.assign({type: 'custom', z: 6, silent: true, animation: false,
    data: ids.map(d => [d[0], 1.0]),
    renderItem: (params, api) => {
      const lam = api.value(0);
      const a = api.coord([lam, 1.0]), b = api.coord([lam, 1.065]);
      return {type: 'group', children: [
        {type: 'line', shape: {x1: a[0], y1: a[1], x2: b[0], y2: b[1]}, style: {stroke: '#000', lineWidth: 1}},
        {type: 'text', x: b[0] + 2, y: b[1], rotation: Math.PI / 2,
          style: {text: ids[params.dataIndex][1], fontSize: 10, fontFamily: FONT, fill: '#000', align: 'left', verticalAlign: 'bottom'}}
      ]};
    }}, ax));

  // Lande factors
  const ld = pn.ld;
  series.push(Object.assign({type: 'custom', z: 6, silent: true, animation: false,
    data: ld.map(d => [d[0], -0.63]),
    renderItem: (params, api) => {
      const p = api.coord([api.value(0), api.value(1)]);
      return {type: 'text', x: p[0], y: p[1], rotation: Math.PI / 2,
        style: {text: ld[params.dataIndex][1], fontSize: 13, fontFamily: FONT, fill: BLUE, align: 'left', verticalAlign: 'middle'}};
    }}, ax));

  // title
  graphics.push({type: 'text', x: GL + (W - GL - GR) / 2, y: i * PITCH + 10, silent: true,
    style: {text: 'Atlas from Delbouille {it|et al} ({it|μ}=1.0), V/I & SQRT(Q²+U²)/I for g=1 & B=1000 G, polarization rates for B=1000 G (bars), line identification (Moore table), Lande factors, from ' + pn.s + ' Å to ' + (pn.s + 10) + ' Å',
      fontSize: 17.2, fontFamily: FONT, fill: '#000', align: 'center', verticalAlign: 'middle',
      rich: {it: {fontSize: 17.2, fontFamily: 'DejaVu Serif', fontStyle: 'italic', fontWeight: 'bold', fill: '#000'}}}});
});

chart.setOption({
  animation: false,
  backgroundColor: '#fff',
  grid: grids, xAxis: xAxes, yAxis: yAxes, series: series, graphic: graphics
});
</script></body></html>
